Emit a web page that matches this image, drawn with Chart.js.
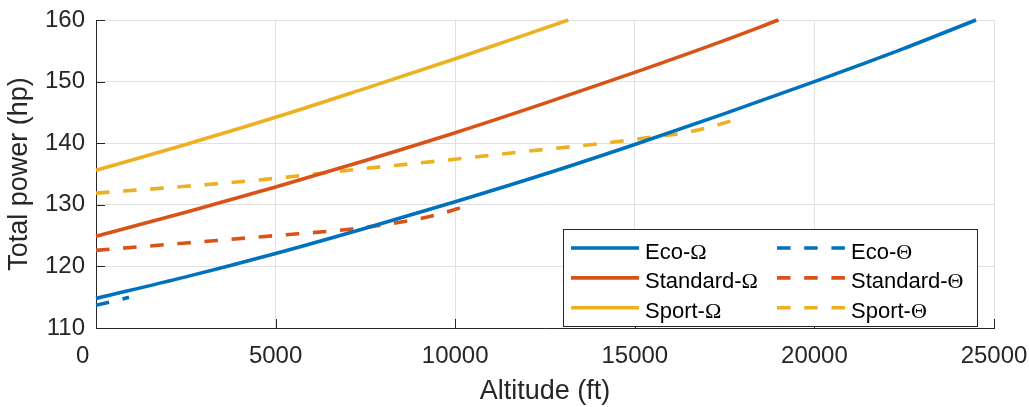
<!DOCTYPE html>
<html>
<head>
<meta charset="utf-8">
<script src="https://cdn.jsdelivr.net/npm/chart.js@4.4.1/dist/chart.umd.min.js"></script>
<style>
  html, body { margin: 0; padding: 0; background: #fff; }
  #wrap { width: 1029px; height: 407px; }
</style>
</head>
<body>
<div id="wrap"><canvas id="grafico" width="1029" height="407"></canvas></div>
<script>
// Datos (altitud en ft, potencia total en hp)
const altEcoOmega = [0, 2500, 5000, 7500, 10000, 12500, 15000, 17500, 20000, 22500, 24500];
const powEcoOmega = [114.8, 118.3, 122.1, 126.2, 130.5, 135.0, 139.8, 144.8, 150.0, 155.4, 160];

const altStdOmega = [0, 2500, 5000, 7500, 10000, 12500, 15000, 17500, 19000];
const powStdOmega = [124.9, 128.8, 132.9, 137.2, 141.7, 146.5, 151.5, 156.7, 160];

const altSportOmega = [0, 2500, 5000, 7500, 10000, 11500, 13150];
const powSportOmega = [135.6, 139.8, 144.2, 148.9, 153.7, 156.7, 160];

const altEcoTheta = [0, 450, 920];
const powEcoTheta = [113.7, 114.3, 115.0];

const altStdTheta = [0, 2500, 5000, 7000, 8500, 9500, 10300];
const powStdTheta = [122.6, 123.8, 125.0, 126.0, 127.2, 128.4, 129.8];

const altSportTheta = [0, 2500, 5000, 7500, 10000, 12000, 14000, 15500, 16300, 17000, 17500, 18000];
const powSportTheta = [131.9, 133.0, 134.3, 135.9, 137.4, 138.7, 139.9, 141.0, 141.6, 142.5, 143.3, 144.2];

const xTicks = [0, 5000, 10000, 15000, 20000, 25000];
const yTicks = [110, 120, 130, 140, 150, 160];

const seriesNames = ['Eco', 'Standard', 'Sport', 'Eco', 'Standard', 'Sport'];
const seriesSymbols = ['Ω', 'Ω', 'Ω', 'Θ', 'Θ', 'Θ'];
const colores = ['#0072BD', '#D95319', '#EDB120'];

const fuente = '"Liberation Sans", Arial, Helvetica, sans-serif';
const grosor = 3.6;

function puntos(xs, ys) {
    return xs.map((x, i) => ({ x: x, y: ys[i] }));
}

function serie(i, xs, ys, discontinua) {
    return {
        label: seriesNames[i] + '-' + seriesSymbols[i],
        data: puntos(xs, ys),
        borderColor: colores[i % 3],
        borderWidth: grosor,
        borderDash: discontinua ? [13.5, 13.7] : [],
        pointRadius: 0,
        cubicInterpolationMode: 'monotone',
        fill: false,
        clip: false
    };
}

// Marcas de los ejes hacia dentro, como en MATLAB
const marcasInternas = {
    id: 'marcasInternas',
    beforeDatasetsDraw(chart) {
        const { ctx, chartArea, scales } = chart;
        ctx.save();
        ctx.strokeStyle = '#262626';
        ctx.lineWidth = 1;
        ctx.beginPath();
        scales.x.ticks.forEach(t => {
            const px = Math.round(scales.x.getPixelForValue(t.value)) + 0.5;
            ctx.moveTo(px, chartArea.bottom);
            ctx.lineTo(px, chartArea.bottom - 9);
        });
        scales.y.ticks.forEach(t => {
            const py = Math.round(scales.y.getPixelForValue(t.value)) + 0.5;
            ctx.moveTo(chartArea.left, py);
            ctx.lineTo(chartArea.left + 9, py);
        });
        ctx.stroke();
        ctx.restore();
    }
};

// Leyenda de dos columnas dentro del área del gráfico
const leyenda = {
    id: 'leyenda',
    afterDraw(chart) {
        const ctx = chart.ctx;
        ctx.save();
        ctx.fillStyle = '#fff';
        ctx.fillRect(563, 229, 415, 98);
        ctx.strokeStyle = '#262626';
        ctx.lineWidth = 1;
        ctx.strokeRect(563.5, 229.5, 414, 97);

        chart.data.datasets.forEach((ds, i) => {
            const col = i < 3 ? 0 : 1;
            const fila = i % 3;
            const x0 = col === 0 ? 571 : 777;
            const y = 248 + fila * 29.9;

            ctx.strokeStyle = ds.borderColor;
            ctx.lineWidth = grosor;
            ctx.setLineDash(ds.borderDash);
            ctx.beginPath();
            ctx.moveTo(x0, y);
            ctx.lineTo(x0 + 68, y);
            ctx.stroke();
            ctx.setLineDash([]);

            ctx.fillStyle = '#000';
            ctx.textBaseline = 'alphabetic';
            ctx.textAlign = 'left';
            const base = seriesNames[i] + '-';
            ctx.font = '22px ' + fuente;
            ctx.fillText(base, x0 + 74, y + 10.5);
            const w = ctx.measureText(base).width;
            ctx.font = '22px "Liberation Serif", "Times New Roman", serif';
            ctx.fillText(seriesSymbols[i], x0 + 74 + w, y + 10.5);
        });
        ctx.restore();
    }
};

document.addEventListener('DOMContentLoaded', function() {
    const ctx = document.getElementById('grafico');

    new Chart(ctx, {
        type: 'line',
        data: {
            datasets: [
                serie(0, altEcoOmega, powEcoOmega, false),
                serie(1, altStdOmega, powStdOmega, false),
                serie(2, altSportOmega, powSportOmega, false),
                serie(3, altEcoTheta, powEcoTheta, true),
                serie(4, altStdTheta, powStdTheta, true),
                serie(5, altSportTheta, powSportTheta, true)
            ]
        },
        options: {
            responsive: false,
            animation: false,
            devicePixelRatio: 1,
            layout: {
                padding: { top: 20, right: 35, left: 0, bottom: 0 }
            },
            plugins: {
                legend: { display: false },
                tooltip: { enabled: false }
            },
            scales: {
                x: {
                    type: 'linear',
                    min: 0,
                    max: 25000,
                    afterBuildTicks: scale => { scale.ticks = xTicks.map(v => ({ value: v })); },
                    afterFit: scale => {
                        scale.height = 79;
                        scale.paddingLeft = 0;
                        scale.paddingRight = 0;
                    },
                    grid: { color: '#e1e1e1', lineWidth: 1, drawTicks: false },
                    border: { color: '#262626', width: 1 },
                    ticks: {
                        color: '#262626',
                        padding: 14,
                        maxRotation: 0,
                        font: { family: fuente, size: 24 },
                        // el "0" del original queda desplazado a la izquierda
                        callback: v => v === 0 ? '0\u2007\u2007' : String(v)
                    },
                    title: {
                        display: true,
                        text: 'Altitude (ft)',
                        color: '#262626',
                        font: { family: fuente, size: 27, lineHeight: 1 },
                        padding: { top: 0, bottom: 1.5 }
                    }
                },
                y: {
                    type: 'linear',
                    min: 110,
                    max: 160,
                    afterBuildTicks: scale => { scale.ticks = yTicks.map(v => ({ value: v })); },
                    afterFit: scale => {
                        scale.width = 96;
                        scale.paddingTop = 0;
                        scale.paddingBottom = 0;
                    },
                    grid: { color: '#e1e1e1', lineWidth: 1, drawTicks: false },
                    border: { color: '#262626', width: 1 },
                    ticks: {
                        color: '#262626',
                        padding: 11,
                        font: { family: fuente, size: 24 },
                        callback: v => String(v)
                    },
                    title: {
                        display: true,
                        text: 'Total power (hp)',
                        color: '#262626',
                        font: { family: fuente, size: 27, lineHeight: 1 },
                        padding: { top: 6.5, bottom: 0 }
                    }
                }
            }
        },
        plugins: [marcasInternas, leyenda]
    });
});
</script>
</body>
</html>
